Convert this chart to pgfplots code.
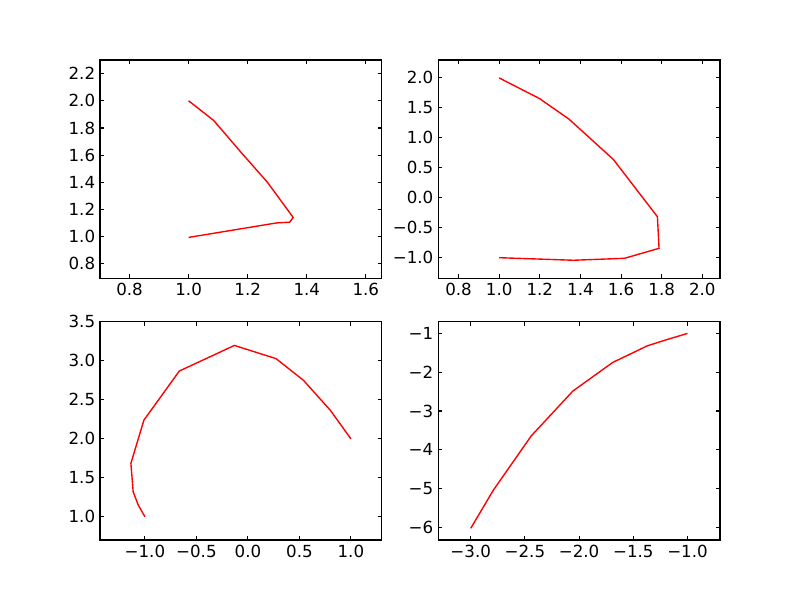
\documentclass[border=0pt]{standalone}
\usepackage{fontspec}
\setmainfont{DejaVu Sans}
\usepackage{pgfplots}
\pgfplotsset{compat=1.18}

\pgfplotsset{
  panel/.style={
    scale only axis, width=2.818in, height=2.182in,
    axis line style={line width=1bp, black},
    tick style={line width=0.8bp, black},
    major tick length=0.04in, tick align=inside,
    xtick pos=both, ytick pos=both,
    ticklabel style={font=\fontsize{12bp}{14bp}\selectfont},
  },
  trace/.style={red, line width=1bp, mark=none},
}

\begin{document}
\begin{tikzpicture}
\path[fill=white] (0,0) rectangle (8in,6in);

% top left
\begin{axis}[panel, at={(1.0in,3.218in)}, anchor=south west,
    xmin=0.7, xmax=1.654, ymin=0.695, ymax=2.3,
    xtick={0.8,1.0,1.2,1.4,1.6}, xticklabels={0.8,1.0,1.2,1.4,1.6},
    ytick={0.8,1.0,1.2,1.4,1.6,1.8,2.0,2.2},
    yticklabels={0.8,1.0,1.2,1.4,1.6,1.8,2.0,2.2}]
\addplot[trace] coordinates {(1.0,2.0) (1.085,1.855) (1.175,1.627) (1.267,1.40) (1.354,1.142)
  (1.342,1.107) (1.299,1.102) (1.0,0.995)};
\end{axis}

% top right
\begin{axis}[panel, at={(4.382in,3.218in)}, anchor=south west,
    xmin=0.7, xmax=2.087, ymin=-1.35, ymax=2.3,
    xtick={0.8,1.0,1.2,1.4,1.6,1.8,2.0}, xticklabels={0.8,1.0,1.2,1.4,1.6,1.8,2.0},
    ytick={-1.0,-0.5,0.0,0.5,1.0,1.5,2.0},
    yticklabels={−1.0,−0.5,0.0,0.5,1.0,1.5,2.0}]
\addplot[trace] coordinates {(1.0,2.0) (1.198,1.656) (1.344,1.31) (1.562,0.637)
  (1.779,-0.322) (1.787,-0.85) (1.617,-1.017) (1.366,-1.05) (1.0,-1.007)};
\end{axis}

% bottom left
\begin{axis}[panel, at={(1.0in,0.6in)}, anchor=south west,
    xmin=-1.436, xmax=1.3, ymin=0.695, ymax=3.5,
    xtick={-1.0,-0.5,0.0,0.5,1.0}, xticklabels={−1.0,−0.5,0.0,0.5,1.0},
    ytick={1.0,1.5,2.0,2.5,3.0,3.5}, yticklabels={1.0,1.5,2.0,2.5,3.0,3.5}]
\addplot[trace] coordinates {(-1.0,0.995) (-1.065,1.145) (-1.114,1.316) (-1.136,1.68)
  (-1.01,2.235) (-0.666,2.867) (-0.131,3.196) (0.274,3.026) (0.54,2.747)
  (0.80,2.363) (1.0,1.995)};
\end{axis}

% bottom right
\begin{axis}[panel, at={(4.382in,0.6in)}, anchor=south west,
    xmin=-3.3, xmax=-0.7, ymin=-6.326, ymax=-0.7,
    xtick={-3.0,-2.5,-2.0,-1.5,-1.0}, xticklabels={−3.0,−2.5,−2.0,−1.5,−1.0},
    ytick={-6,-5,-4,-3,-2,-1}, yticklabels={−6,−5,−4,−3,−2,−1}]
\addplot[trace] coordinates {(-3.0,-6.026) (-2.791,-5.04) (-2.443,-3.647) (-2.058,-2.487)
  (-1.69,-1.748) (-1.37,-1.319) (-1.176,-1.147) (-1.0,-1.0)};
\end{axis}
\end{tikzpicture}
\end{document}
